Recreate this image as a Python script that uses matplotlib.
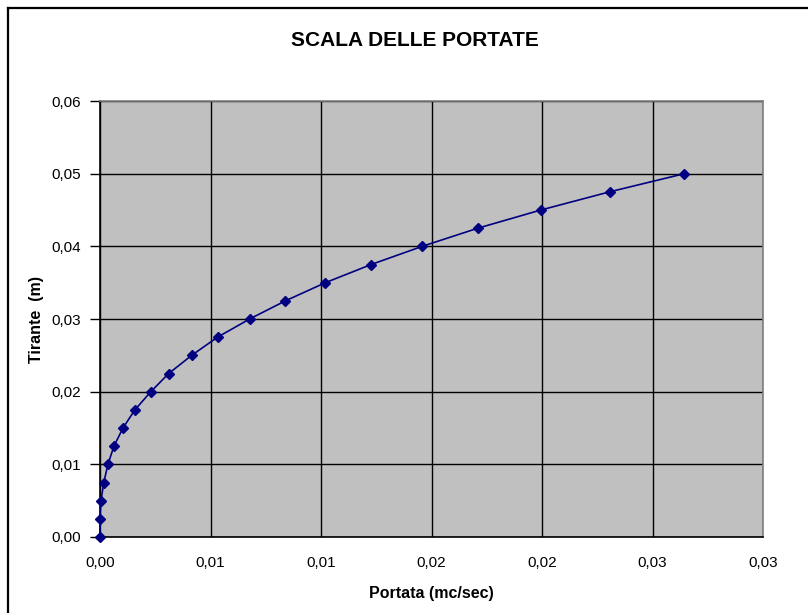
import numpy as np
import matplotlib.pyplot as plt
from matplotlib.lines import Line2D
from matplotlib.ticker import FuncFormatter

plt.rcParams['font.family'] = ['Liberation Sans', 'DejaVu Sans']

# scala delle portate: tirante (m) vs portata (mc/sec)
tirante = [0.0, 0.0025, 0.005, 0.0075, 0.01, 0.0125, 0.015, 0.0175, 0.02, 0.0225,
           0.025, 0.0275, 0.03, 0.0325, 0.035, 0.0375, 0.04, 0.0425, 0.045, 0.0475, 0.05]
portata = [0.0, 0.0, 0.000045, 0.00017, 0.00036, 0.00063, 0.00104, 0.00158, 0.0023, 0.00311,
           0.00415, 0.00532, 0.00677, 0.00839, 0.0102, 0.01227, 0.01458, 0.0171, 0.01995, 0.02306, 0.02644]

xa = np.array(portata)
ya = np.array(tirante)

fig = plt.figure(figsize=(8.08, 6.13), dpi=100)
ax = fig.add_axes([100/808, 1-537/613, 663/808, 436/613])
ax.set_facecolor("#C0C0C0")

ax.plot(xa, ya, "-", color="#000080", lw=1.2, marker="D", ms=5, mfc="#000080", mec="#000080",
        clip_on=False, zorder=3)

ax.axis([0, 0.03, 0, 0.06])
ax.set_xticks(np.arange(0, 0.0301, 0.005))
ax.set_yticks(np.arange(0, 0.0601, 0.01))

def fmt(v, pos):
    return ("%.2f" % (v + 1e-9)).replace(".", ",")

ax.xaxis.set_major_formatter(FuncFormatter(fmt))
ax.yaxis.set_major_formatter(FuncFormatter(fmt))
ax.grid(True, color="black", lw=1)
ax.set_axisbelow(True)
ax.spines["left"].set_color("black")
ax.spines["bottom"].set_color("black")
ax.spines["top"].set_color("#808080")
ax.spines["right"].set_color("#808080")
for s in ax.spines.values():
    s.set_linewidth(1.2)
ax.tick_params(labelsize=11, colors="black")
ax.tick_params(axis="x", length=0, pad=14)
ax.tick_params(axis="y", direction="out", length=7, width=1, pad=7)

ax.set_xlabel("Portata (mc/sec)", fontsize=11.5, fontweight="bold", labelpad=11)
ax.set_ylabel("Tirante  (m)", fontsize=11.5, fontweight="bold", labelpad=5)
fig.text(415/808, 1-40/613, "SCALA DELLE PORTATE", fontsize=15, fontweight="bold",
         ha="center", va="center")

# outer chart border (top and left visible)
x0, y0 = 8/808, 1-8/613
fig.add_artist(Line2D([x0, 1], [y0, y0], color="black", lw=1.6, transform=fig.transFigure))
fig.add_artist(Line2D([x0, x0], [0, y0], color="black", lw=1.6, transform=fig.transFigure))

plt.savefig("out.png", dpi=100)
